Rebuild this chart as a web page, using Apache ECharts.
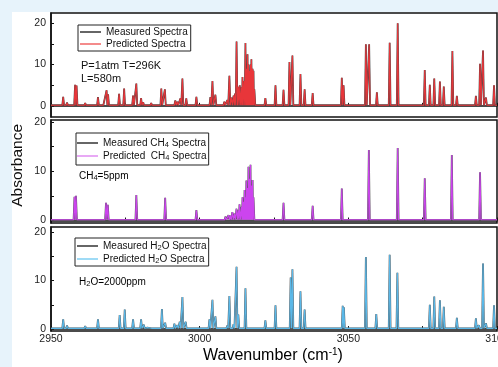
<!DOCTYPE html>
<html>
<head>
<meta charset="utf-8">
<script src="https://cdn.jsdelivr.net/npm/echarts@6/dist/echarts.min.js"></script>
<style>
html, body { margin: 0; padding: 0; background: #e7f3fb; }
#chart { width: 498px; height: 367px; }
</style>
</head>
<body>
<div id="chart"></div>
<script>
// axis ticks / labels
var waveTicks = [2950, 2975, 3000, 3025, 3050, 3075, 3100];
var waveLabels = [2950, 3000, 3050, 3100];
var absTicks = [0, 5, 10, 15, 20];
var absLabels = [0, 10, 20];

// peaks: [wavenumber, absorbance]
var mixPeaks = [
    [2954.1, 2.2], [2955.4, 0.8], [2956.7, 0.5], [2958.1, 5.1], [2958.6, 4.9], [2961.5, 0.7],
    [2965.8, 2.1], [2967.9, 0.5], [2968.7, 3.8], [2969.2, 2.8], [2972.9, 2.9], [2974.6, 4.2],
    [2977.6, 2.5], [2978.7, 5.4], [2980.3, 1.9], [2981.0, 0.9], [2982.4, 0.4], [2983.7, 0.7],
    [2987.1, 4.2], [2988.3, 4.0], [2991.8, 1.3], [2992.5, 1.0], [2993.5, 1.8], [2994.2, 6.6],
    [2995.5, 1.8], [2998.9, 2.2], [3003.6, 2.1], [3004.3, 6.0], [3005.3, 2.7], [3007.3, 0.6],
    [3008.3, 1.0], [3009.3, 1.4], [3010.0, 7.3], [3010.7, 2.0], [3011.4, 2.5], [3011.9, 3.0],
    [3012.4, 15.6], [3013.0, 4.6], [3013.5, 5.0], [3014.1, 4.5], [3014.4, 7.0], [3014.9, 6.0],
    [3015.4, 15.2], [3015.7, 9.0], [3016.1, 12.5], [3016.4, 10.0], [3016.8, 8.5], [3017.1, 10.0],
    [3017.4, 11.3], [3017.8, 9.0], [3018.1, 8.5], [3018.4, 4.0], [3020.8, 0.3], [3022.1, 1.9],
    [3025.5, 5.0], [3028.2, 3.9], [3030.2, 10.6], [3031.2, 12.2], [3033.9, 7.7], [3035.3, 4.0],
    [3038.0, 3.1], [3047.8, 6.8], [3048.4, 5.0], [3055.9, 14.9], [3057.0, 14.9], [3059.6, 3.3],
    [3063.9, 15.3], [3066.6, 20.0], [3075.7, 8.7], [3077.4, 5.1], [3078.9, 6.6], [3080.8, 5.9],
    [3082.1, 4.7], [3085.0, 13.3], [3086.5, 2.4], [3092.9, 2.4], [3094.3, 10.2], [3095.3, 13.4],
    [3096.3, 2.0], [3099.0, 5.0]
];
var ch4Peaks = [
    [2957.9, 4.8], [2958.4, 5.0], [2968.5, 3.6], [2969.1, 3.2], [2978.7, 5.2], [2988.4, 4.6],
    [2998.9, 2.1], [3006.6, 0.3], [3007.6, 0.5], [3008.7, 0.8], [3009.7, 1.1], [3010.3, 1.0],
    [3011.0, 1.7], [3011.7, 1.4], [3012.4, 2.4], [3013.0, 2.1], [3013.4, 3.3], [3014.1, 2.8],
    [3014.4, 4.7], [3014.7, 3.8], [3015.1, 6.2], [3015.4, 4.7], [3015.7, 8.1], [3016.1, 6.6],
    [3016.4, 10.9], [3016.8, 8.5], [3017.1, 11.3], [3017.4, 7.1], [3017.8, 8.2], [3018.1, 4.7],
    [3020.8, 0.2], [3028.2, 3.6], [3038.0, 3.0], [3047.8, 6.5], [3056.9, 14.3], [3066.6, 14.7],
    [3075.7, 8.6], [3084.8, 13.3], [3094.3, 9.8]
];
var h2oPeaks = [
    [2954.1, 2.0], [2955.4, 0.7], [2956.7, 0.4], [2961.5, 0.6], [2965.8, 2.0], [2967.5, 0.4],
    [2969.2, 0.5], [2973.1, 2.9], [2974.8, 4.0], [2977.6, 2.0], [2980.3, 2.0], [2981.2, 0.9],
    [2982.4, 0.3], [2984.1, 0.5], [2987.3, 4.1], [2988.4, 1.3], [2991.5, 1.1], [2992.5, 0.8],
    [2993.3, 1.5], [2994.2, 6.6], [2995.3, 1.5], [3003.3, 2.0], [3004.3, 6.0], [3005.3, 2.6],
    [3009.3, 0.7], [3010.0, 6.8], [3011.4, 1.0], [3012.4, 12.8], [3013.0, 3.0], [3015.4, 8.4],
    [3022.1, 1.8], [3025.5, 4.9], [3030.6, 10.6], [3031.2, 12.3], [3033.9, 7.8], [3035.3, 4.0],
    [3048.1, 4.8], [3048.5, 4.5], [3055.9, 14.8], [3059.4, 3.1], [3063.9, 15.3], [3066.5, 11.6],
    [3077.4, 5.0], [3078.9, 6.7], [3080.8, 5.9], [3082.1, 4.6], [3086.5, 2.3], [3092.9, 2.2],
    [3093.9, 0.8], [3095.3, 13.5], [3096.3, 1.2], [3099.0, 4.9]
];

var font = "'Liberation Sans', Arial, sans-serif";

// narrow spike for every peak, back to the baseline in between
function spectrum(peaks) {
    var list = peaks.slice().sort(function (a, b) { return a[0] - b[0]; });
    var hw = 0.3;
    var pts = [[2950, 0.15]];
    for (var i = 0; i < list.length; i++) {
        var x = list[i][0], h = list[i][1];
        var lo = i > 0 ? Math.max(x - hw, (list[i - 1][0] + x) / 2) : x - hw;
        var hi = i < list.length - 1 ? Math.min(x + hw, (list[i + 1][0] + x) / 2) : x + hw;
        pts.push([lo, 0.15], [x, h], [hi, 0.15]);
    }
    pts.push([3100, 0.15]);
    return pts;
}

var grids = [
    { left: 51, width: 446, top: 13, height: 104, min: -2.7, max: 22.5 },
    { left: 51, width: 446, top: 120, height: 103, min: -0.5, max: 20.4 },
    { left: 51, width: 446, top: 227, height: 104, min: -0.4, max: 21 }
];

var richText = {
    n: { fontSize: 10, fontFamily: font, color: '#111', lineHeight: 12 },
    s: { fontSize: 7.5, fontFamily: font, color: '#111', verticalAlign: 'bottom', lineHeight: 8, padding: [5, 0, 0, 0] }
};

function subName(name) {
    var m = name.match(/^(.*?)(CH|H)(4|2)(.*)$/);
    if (!m) return '{n|' + name + '}';
    return '{n|' + m[1] + m[2] + '}{s|' + m[3] + '}{n|' + m[4] + '}';
}

function makeLegend(names, left, top, pad, lh, colors) {
    return {
        orient: 'vertical', left: left, top: top,
        data: names.map(function (n, i) { return { name: n, itemStyle: { color: colors[i] } }; }),
        icon: 'rect', itemWidth: 21, itemHeight: 1.5, itemGap: 0,
        padding: pad, borderColor: '#222', borderWidth: 1,
        formatter: subName,
        textStyle: { fontSize: 10, fontFamily: font, color: '#111', lineHeight: lh, rich: richText },
        selectedMode: false
    };
}

var chart = echarts.init(document.getElementById('chart'));

var option = {
    backgroundColor: '#e7f3fb',
    animation: false,
    grid: grids.map(function (g) {
        return { left: g.left, width: g.width, top: g.top, height: g.height, show: true,
                 containLabel: false, outerBoundsMode: 'none',
                 borderColor: '#111', borderWidth: 1.5, backgroundColor: '#fff' };
    }),
    xAxis: grids.map(function (g, i) {
        return {
            type: 'value', gridIndex: i, min: 2950, max: 3100,
            axisLine: { show: true, lineStyle: { color: '#111', width: 1.5 } },
            axisTick: { show: true, inside: true, length: 3, customValues: waveTicks, lineStyle: { color: '#111' } },
            axisLabel: { show: i === 2, customValues: waveLabels, fontSize: 10.5, fontFamily: font, color: '#222', margin: 3,
                         formatter: function (v) { return String(v); } },
            splitLine: { show: false }
        };
    }),
    yAxis: grids.map(function (g, i) {
        return {
            type: 'value', gridIndex: i, min: g.min, max: g.max,
            axisLine: { show: true, lineStyle: { color: '#111', width: 1.5 } },
            axisTick: { show: true, inside: true, length: 3, customValues: absTicks, lineStyle: { color: '#111' } },
            axisLabel: { customValues: absLabels, fontSize: 10.5, fontFamily: font, color: '#222', margin: 5 },
            splitLine: { show: false }
        };
    }),
    legend: [
        makeLegend(['Measured Spectra', 'Predicted Spectra'], 78, 25, [1, 3, 1, 2], 12.5, ['#333', '#f06464']),
        makeLegend(['Measured CH4 Spectra', 'Predicted  CH4 Spectra'], 76, 133, [3, 2, 3, 1], 15, ['#333', '#e08cf2']),
        makeLegend(['Measured H2O Spectra', 'Predicted H2O Spectra'], 75, 238, [1, 2, 1, 2], 13.5, ['#333', '#7fcff3'])
    ],
    series: [
        { name: 'Measured Spectra', data: spectrum(mixPeaks), xAxisIndex: 0, yAxisIndex: 0, color: '#444' },
        { name: 'Predicted Spectra', data: spectrum(mixPeaks), xAxisIndex: 0, yAxisIndex: 0, color: '#e8363a', width: 1.1 },
        { name: 'Measured CH4 Spectra', data: spectrum(ch4Peaks), xAxisIndex: 1, yAxisIndex: 1, color: '#555' },
        { name: 'Predicted  CH4 Spectra', data: spectrum(ch4Peaks), xAxisIndex: 1, yAxisIndex: 1, color: '#cc44ee', width: 1.1 },
        { name: 'Measured H2O Spectra', data: spectrum(h2oPeaks), xAxisIndex: 2, yAxisIndex: 2, color: '#555' },
        { name: 'Predicted H2O Spectra', data: spectrum(h2oPeaks), xAxisIndex: 2, yAxisIndex: 2, color: '#5ab8e8', width: 1.1 }
    ].map(function (s) {
        return {
            name: s.name, type: 'line', data: s.data, xAxisIndex: s.xAxisIndex, yAxisIndex: s.yAxisIndex,
            showSymbol: false, symbol: 'none', color: s.color,
            lineStyle: { color: s.color, width: s.width || 1.8 }
        };
    }),
    graphic: [
        { type: 'rect', shape: { x: 12, y: 12, width: 486, height: 355 }, style: { fill: '#fff' }, z: -10, silent: true },
        { type: 'text', left: 81, top: 59, style: { text: 'P=1atm T=296K\nL=580m', fontSize: 11, fontFamily: font, fill: '#111', lineHeight: 13 } },
        { type: 'text', left: 79, top: 169, style: { text: '{n|CH}{s|4}{n|=5ppm}', rich: richText } },
        { type: 'text', left: 79, top: 275, style: { text: '{n|H}{s|2}{n|O=2000ppm}', rich: richText } },
        { type: 'text', left: 10, top: 124, rotation: Math.PI / 2,
          style: { text: 'Absorbance', fontSize: 15.5, fontFamily: font, fill: '#111' } },
        { type: 'text', left: 203, top: 347,
          style: { text: '{w|Wavenumber (cm}{p|-1}{w|)}', rich: {
              w: { fontSize: 16, fontFamily: font, color: '#111', lineHeight: 18 },
              p: { fontSize: 10, fontFamily: font, color: '#111', verticalAlign: 'top', lineHeight: 10, padding: [0, 0, 8, 0] }
          } } }
    ]
};

chart.setOption(option);
</script>
</body>
</html>
